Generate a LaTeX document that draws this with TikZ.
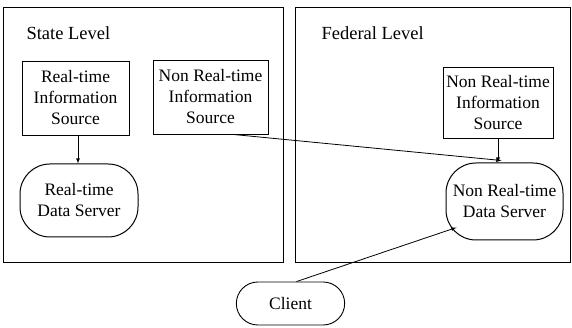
\documentclass[tikz,border=0pt]{standalone}
\usepackage{fontspec}
\setmainfont{Liberation Serif}
\usepackage{tikz}
\usetikzlibrary{shapes.misc}

\begin{document}
\begin{tikzpicture}[x=1pt, y=-1pt, >=latex,
			panel/.style={draw, minimum width=#1, minimum height=255pt, line width = 1pt},
			srcbox/.style={draw, align=center, inner sep=2pt, line width = 0.8pt, font=\fontsize{17.5}{21}\selectfont},
			server/.style={draw, align=center, rounded corners=30pt, line width = 1pt, font=\fontsize{17.5}{21}\selectfont},
			lvl/.style={anchor=west, font=\fontsize{18.5}{21}\selectfont}
		]
		\useasboundingbox (0,0) rectangle (572,328);

		\node[panel=280pt] (state) at (143,135.5) {};
		\node[panel=275pt] (federal) at (432.5,135.5) {};
		\node[lvl] (statelbl) at (23,33) {State Level};
		\node[lvl] (fedlbl) at (318,33) {Federal Level};

		\node[srcbox, minimum width=107pt, minimum height=74pt] (rtsrc) at (75.5,98) {Real-time\\Information\\Source};
		\node[srcbox, minimum width=115pt, minimum height=74pt] (nrtsrcL) at (210.5,97) {Non Real-time\\Information\\Source};
		\node[server, minimum width=118pt, minimum height=73pt] (rtsrv) at (79,200.5) {Real-time\\Data Server};

		\node[srcbox, minimum width=110pt, minimum height=71pt] (nrtsrcR) at (498,102.5) {Non Real-time\\Information\\Source};
		\node[server, minimum width=117pt, minimum height=77pt] (nrtsrv) at (504.5,201.5) {Non Real-time\\Data Server};

		\node[draw, rounded rectangle, minimum width=115pt, minimum height=43pt, line width = 0.9pt, font=\fontsize{17.5}{21}\selectfont] (client) at (290.5,303.5) {Client};

		\draw[->, line width = 0.8pt] ([xshift=2.5pt]rtsrc.south) -- ([xshift=2.5pt]rtsrc.south |- rtsrv.north);
		\draw[->, line width = 0.8pt] (nrtsrcR.south) -- (nrtsrcR.south |- nrtsrv.north);
		\draw[->, line width = 0.8pt] ([xshift=22pt]nrtsrcL.south) -- ([xshift=-3pt,yshift=2pt]nrtsrv.north);
		\draw[->, line width = 0.8pt] ([xshift=6pt]client.north) -- ([xshift=11pt,yshift=13pt]nrtsrv.south west);
	\end{tikzpicture}
\end{document}
